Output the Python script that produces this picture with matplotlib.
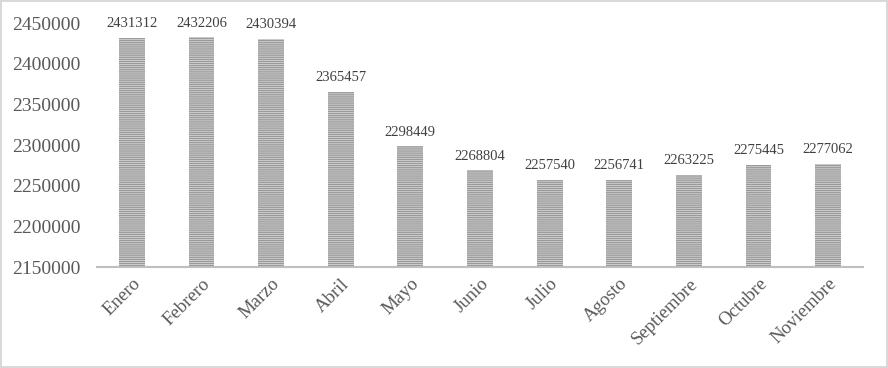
import matplotlib.pyplot as plt
import matplotlib as mpl

meses = ['Enero', 'Febrero', 'Marzo', 'Abril', 'Mayo', 'Junio', 'Julio',
         'Agosto', 'Septiembre', 'Octubre', 'Noviembre']
valores = [2431312, 2432206, 2430394, 2365457, 2298449, 2268804, 2257540,
           2256741, 2263225, 2275445, 2277062]
yticks = [2150000, 2200000, 2250000, 2300000, 2350000, 2400000, 2450000]

plt.rcParams['font.family'] = ['Liberation Serif', 'DejaVu Serif']
mpl.rcParams['hatch.linewidth'] = 0.9

fig = plt.figure(figsize=(8.88, 3.68), dpi=100)
fig.patch.set_edgecolor('#d9d9d9')
fig.patch.set_linewidth(1.5)
ax = fig.add_axes([97/888, 101/368, 766/888, 244/368])

x = range(len(meses))
bars = ax.bar(x, valores, width=0.37, color='#d4d4d4', edgecolor='#9a9a9a',
              hatch='--------', linewidth=0)
for b, v in zip(bars, valores):
    ax.text(b.get_x() + b.get_width()/2, v + 9500, str(v), ha='center',
            va='bottom', fontsize=10.5, color='#404040')

ax.set_xlim(-0.5, len(meses) - 0.5)
ax.set_ylim(2150000, 2450000)
ax.set_yticks(yticks)
ax.set_yticklabels([str(t) for t in yticks], fontsize=14, color='#595959')
ax.set_xticks(list(x))
ax.set_xticklabels(meses, rotation=45, ha='right', rotation_mode='anchor',
                   fontsize=13.5, color='#595959')
ax.tick_params(axis='y', length=0, pad=12)
ax.tick_params(axis='x', length=0, pad=6)
for s in ['top', 'right', 'left']:
    ax.spines[s].set_visible(False)
ax.spines['bottom'].set_color('#bfbfbf')
ax.spines['bottom'].set_linewidth(1.5)

fig.savefig('out.png', dpi=100)
